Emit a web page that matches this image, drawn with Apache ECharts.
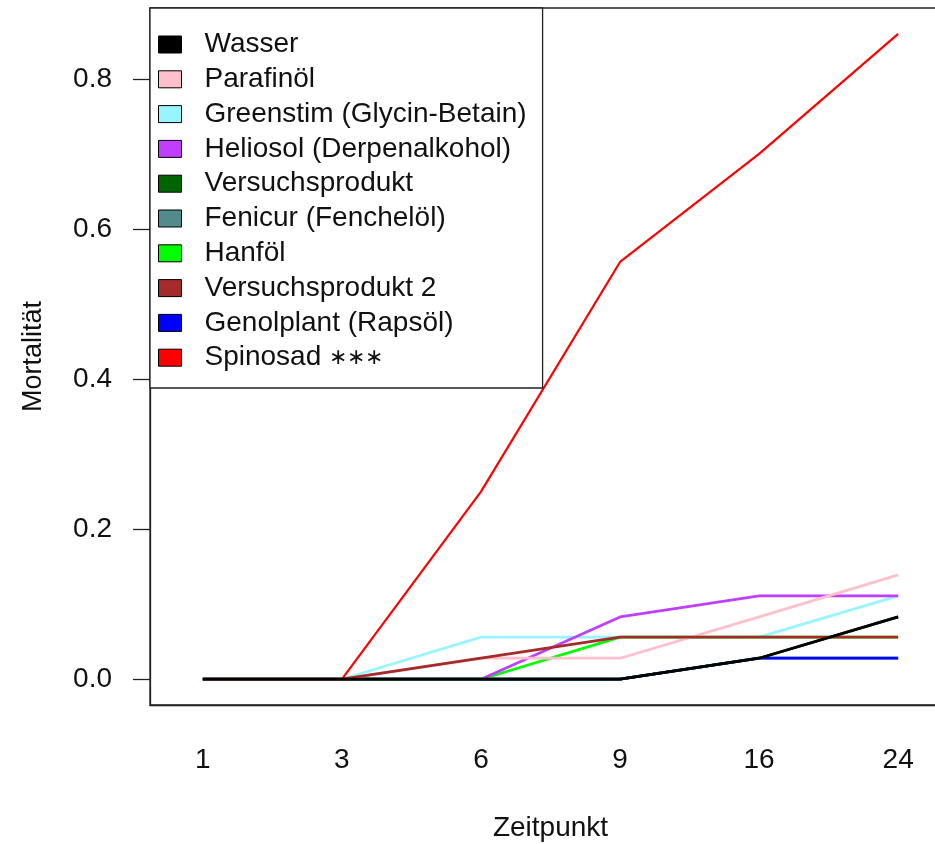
<!DOCTYPE html>
<html>
<head>
<meta charset="utf-8">
<script src="https://cdn.jsdelivr.net/npm/echarts@6/dist/echarts.min.js"></script>
<style>
  html, body { margin: 0; padding: 0; background: #fff; }
  #chart { width: 935px; height: 844px; }
</style>
</head>
<body>
<div id="chart"></div>
<script>
// Time points (hours) on the x axis
const zeitpunkte = ['1', '3', '6', '9', '16', '24'];
const yTicks = [0, 0.2, 0.4, 0.6, 0.8];

// Mean mortality per treatment at each time point
const wasser        = [0, 0, 0,     0,     0.028, 0.083];
const parafinoel    = [0, 0, 0.028, 0.028, 0.083, 0.139];
const greenstim     = [0, 0, 0.056, 0.056, 0.056, 0.111];
const heliosol      = [0, 0, 0,     0.083, 0.111, 0.111];
const versuchsprod  = [0, 0, 0,     0,     0.028, 0.083];
const fenicur       = [0, 0, 0,     0,     0.028, 0.028];
const hanfoel       = [0, 0, 0,     0.056, 0.056, 0.056];
const versuchsprod2 = [0, 0, 0.028, 0.056, 0.056, 0.056];
const genolplant    = [0, 0, 0,     0,     0.028, 0.028];
const spinosad      = [0, 0, 0.25,  0.556, 0.70,  0.86];

// Treatment names in legend order
const legendOrder = [
  'Wasser', 'Parafinöl', 'Greenstim (Glycin-Betain)', 'Heliosol (Derpenalkohol)',
  'Versuchsprodukt', 'Fenicur (Fenchelöl)', 'Hanföl', 'Versuchsprodukt 2',
  'Genolplant (Rapsöl)', 'Spinosad ∗∗∗'
];

// Lines are drawn in alphabetical factor order (later ones on top)
const drawOrder = [
  { name: 'Fenicur (Fenchelöl)', values: fenicur, color: '#528B8B' },
  { name: 'Genolplant (Rapsöl)', values: genolplant, color: '#0000FF' },
  { name: 'Greenstim (Glycin-Betain)', values: greenstim, color: '#98F5FF' },
  { name: 'Hanföl', values: hanfoel, color: '#00FF00' },
  { name: 'Heliosol (Derpenalkohol)', values: heliosol, color: '#BF3EFF' },
  { name: 'Parafinöl', values: parafinoel, color: '#FFC0CB' },
  { name: 'Spinosad ∗∗∗', values: spinosad, color: '#FF0000', width: 2.2 },
  { name: 'Versuchsprodukt', values: versuchsprod, color: '#006400' },
  { name: 'Versuchsprodukt 2', values: versuchsprod2, color: '#A52A2A' },
  { name: 'Wasser', values: wasser, color: '#000000' }
];

const FONT = '"Liberation Sans", Arial, sans-serif';
const chart = echarts.init(document.getElementById('chart'), null, { renderer: 'canvas' });

// y range padded by 4% of the data span, as in the usual plot defaults
const yMaxData = Math.max(...spinosad);
const yPad = 0.04 * yMaxData;

chart.setOption({
  animation: false,
  backgroundColor: '#fff',
  grid: {
    left: 150, top: 8, width: 801, height: 697,
    outerBoundsMode: 'none',
    show: true, borderColor: '#222', borderWidth: 1.3, containLabel: false
  },
  xAxis: {
    type: 'value',
    min: -0.38, max: 5.38,
    name: 'Zeitpunkt', nameLocation: 'middle', nameGap: 109,
    nameTextStyle: { fontFamily: FONT, fontSize: 28, color: '#111' },
    axisLine: { show: true, onZero: false, lineStyle: { color: '#222', width: 1.3 } },
    axisTick: { show: false },
    splitLine: { show: false },
    axisLabel: {
      customValues: zeitpunkte.map((_, i) => i),
      formatter: v => zeitpunkte[Math.round(v)],
      margin: 41, fontFamily: FONT, fontSize: 28, color: '#111'
    }
  },
  yAxis: {
    type: 'value',
    min: -yPad, max: yMaxData + yPad,
    name: 'Mortalität', nameLocation: 'middle', nameGap: 103, nameRotate: 90,
    nameTextStyle: { fontFamily: FONT, fontSize: 27, color: '#111' },
    axisLine: { show: true, onZero: false, lineStyle: { color: '#222', width: 1.3 } },
    axisTick: { show: true, customValues: yTicks, length: 17, lineStyle: { color: '#222', width: 1.3 } },
    splitLine: { show: false },
    axisLabel: {
      customValues: yTicks,
      formatter: v => v.toFixed(1),
      margin: 38, fontFamily: FONT, fontSize: 28, color: '#111'
    }
  },
  legend: {
    data: legendOrder,
    orient: 'vertical',
    left: 150, top: 8,
    padding: [22.5, 16, 16.3, 8],
    borderColor: '#222', borderWidth: 1.3,
    backgroundColor: '#fff',
    itemWidth: 23, itemHeight: 17, itemGap: 6.8,
    icon: 'rect',
    itemStyle: { borderColor: '#000', borderWidth: 1 },
    formatter: name => name.replace('∗∗∗', '{s|∗∗∗}'),
    textStyle: {
      fontFamily: FONT, fontSize: 28, lineHeight: 28, color: '#111', padding: [0, 0, 0, 18],
      rich: { s: { fontFamily: FONT, fontSize: 22, lineHeight: 28, color: '#111' } }
    },
    selectedMode: false
  },
  series: drawOrder.map(s => ({
    name: s.name,
    type: 'line',
    data: s.values.map((v, i) => [i, v]),
    showSymbol: false,
    symbol: 'none',
    color: s.color,
    lineStyle: { color: s.color, width: s.width || 2.7 },
    emphasis: { disabled: true },
    silent: true
  }))
});
</script>
</body>
</html>
